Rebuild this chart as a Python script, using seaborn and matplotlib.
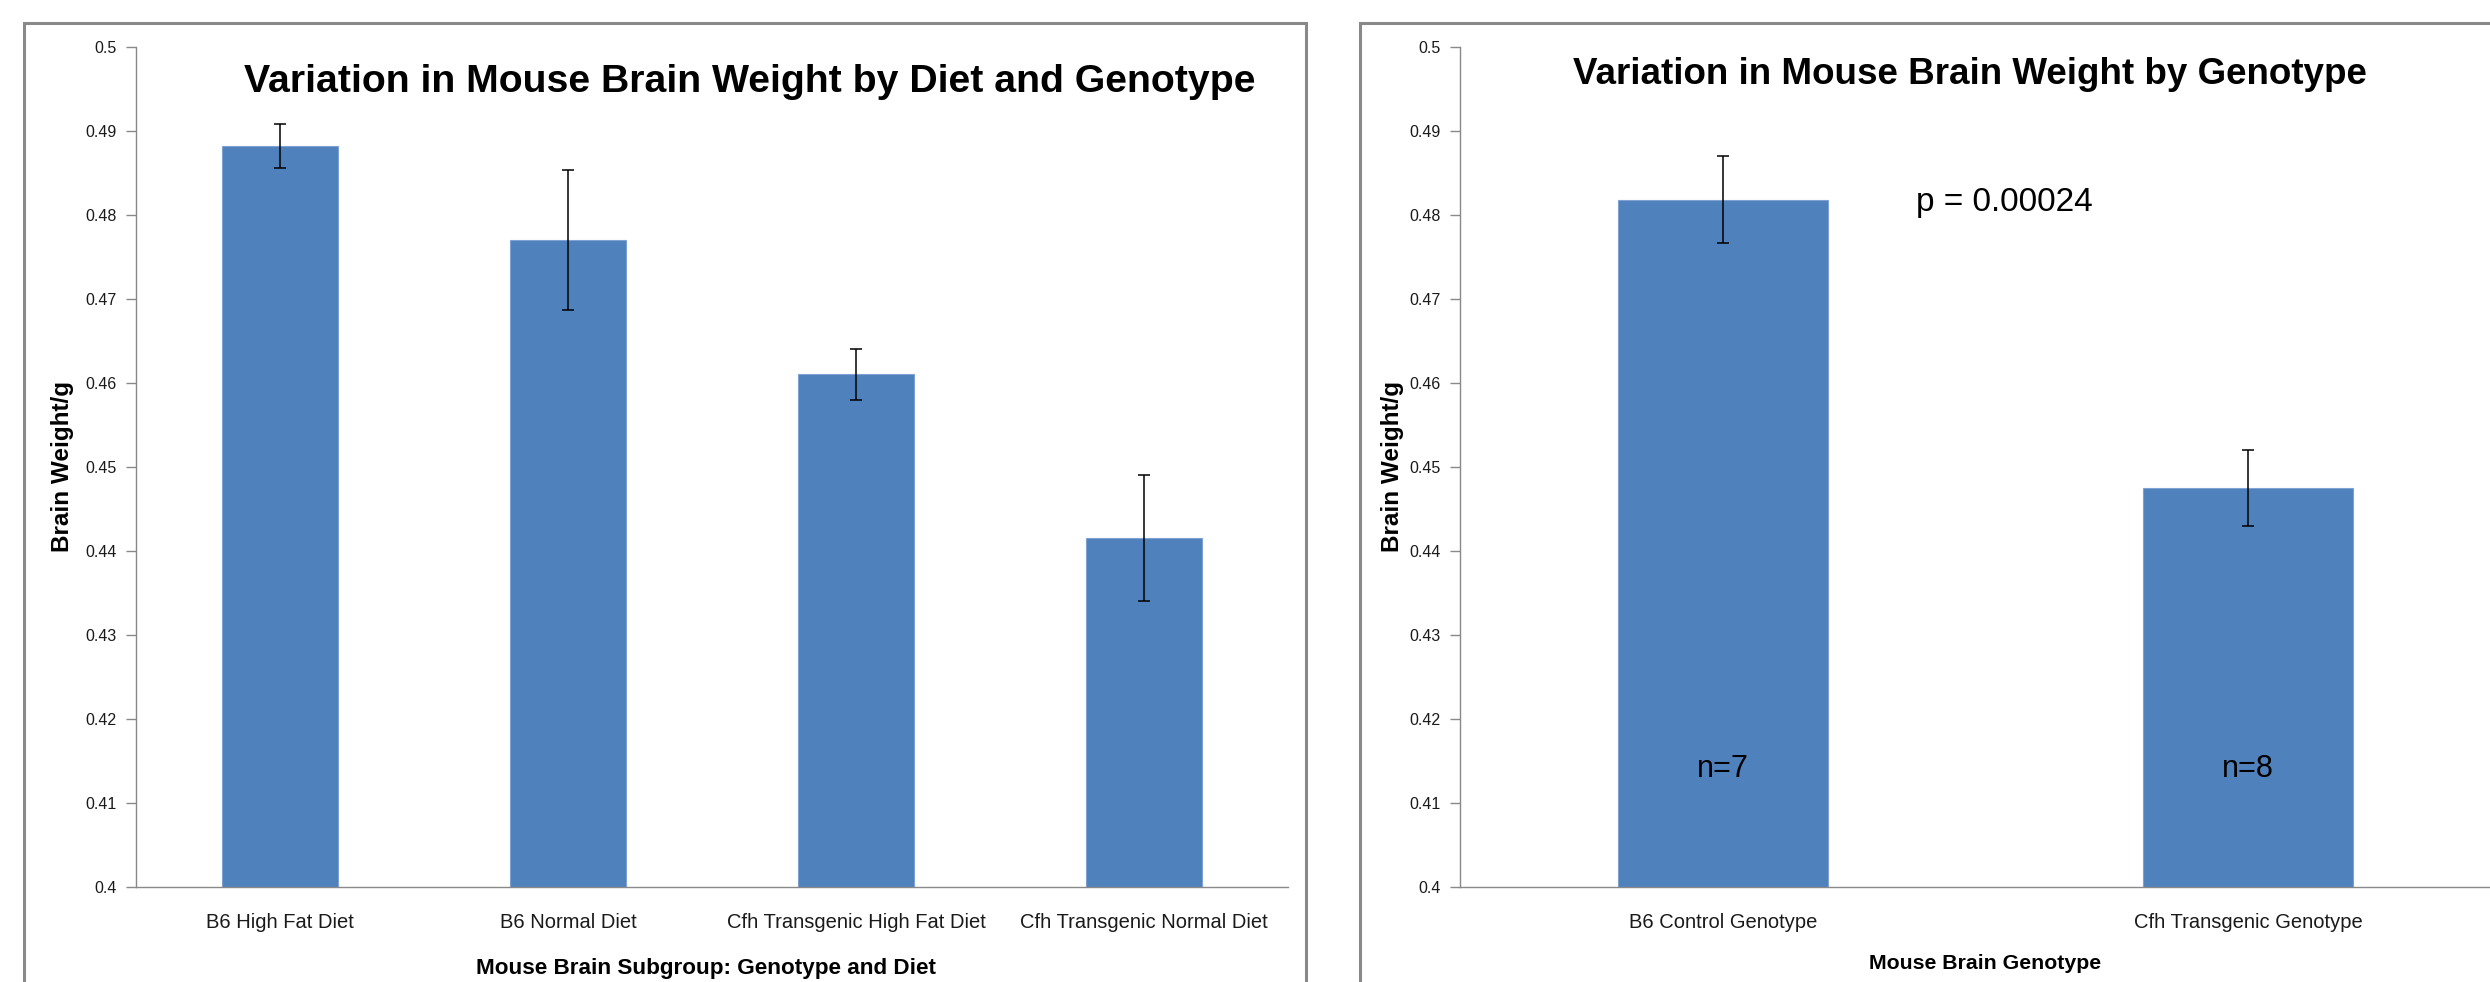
import matplotlib
matplotlib.use("Agg")
import matplotlib.pyplot as plt
import seaborn as sns
from matplotlib.patches import Rectangle
from matplotlib.ticker import FixedLocator, FuncFormatter

# data
diet_groups = ["B6 High Fat Diet", "B6 Normal Diet",
               "Cfh Transgenic High Fat Diet", "Cfh Transgenic Normal Diet"]
diet_means = [0.4882, 0.4770, 0.4610, 0.4415]
diet_errs = [0.0026, 0.0083, 0.0030, 0.0075]

geno_groups = ["B6 Control Genotype", "Cfh Transgenic Genotype"]
geno_means = [0.4818, 0.4475]
geno_errs = [0.0052, 0.0045]
geno_n = ["n=7", "n=8"]
p_text = "p = 0.00024"

BLUE = "#4F81BD"
GREY = "#898989"
TXT = "#1a1a1a"

sns.set_style("white")
plt.rcParams["font.family"] = ["Liberation Sans", "DejaVu Sans"]
plt.rcParams["text.color"] = "black"
plt.rcParams["axes.labelcolor"] = "black"

W, H = 2490, 982
fig = plt.figure(figsize=(24.9, 9.82), dpi=100)

def fx(px):
    return px / W

def fy(py):
    return 1 - py / H

# panel frames (the second one runs off the right and bottom edges)
fig.patches.append(Rectangle((fx(24), fy(1000)), fx(1306 - 24), (1000 - 23) / H,
                             transform=fig.transFigure, fill=False, ec=GREY, lw=2.2))
fig.patches.append(Rectangle((fx(1360), fy(1000)), fx(1300), (1000 - 23) / H,
                             transform=fig.transFigure, fill=False, ec=GREY, lw=2.2))

ax_top, ax_bot = 46.7, 887
ax1 = fig.add_axes([fx(136), fy(ax_bot), fx(1288 - 136), (ax_bot - ax_top) / H])
ax2 = fig.add_axes([fx(1460), fy(ax_bot), fx(2511 - 1460), (ax_bot - ax_top) / H])


def draw_panel(ax, cats, means, errs):
    sns.barplot(x=cats, y=means, color=BLUE, width=0.4, errorbar=None,
                edgecolor="#7EA3D3", linewidth=0.8, saturation=1, ax=ax)
    ax.errorbar(range(len(cats)), means, yerr=errs, fmt="none",
                ecolor="black", elinewidth=1.1, capsize=4.5, capthick=1.1)
    ax.set_ylim(0.4, 0.5)
    ax.set_xlim(-0.5, len(cats) - 0.5)
    ax.yaxis.set_major_locator(FixedLocator([0.4 + 0.01 * i for i in range(11)]))
    ax.yaxis.set_major_formatter(FuncFormatter(lambda v, pos: "%g" % round(v, 2)))
    ax.xaxis.set_minor_locator(FixedLocator([i - 0.5 for i in range(len(cats) + 1)]))
    ax.tick_params(axis="x", which="major", length=0, pad=19, labelsize=14.5,
                   labelcolor=TXT)
    ax.tick_params(axis="x", which="minor", length=9, color=GREY, width=1, direction="out")
    ax.tick_params(axis="y", length=7, color=GREY, width=1, direction="out",
                   left=True, pad=7, labelsize=11.5, labelcolor=TXT)
    for s in ["top", "right"]:
        ax.spines[s].set_visible(False)
    for s in ["left", "bottom"]:
        ax.spines[s].set_color(GREY)
        ax.spines[s].set_linewidth(1)
    ax.set_ylabel("Brain Weight/g", fontsize=17.5, fontweight="bold")
    ax.set_facecolor("none")


draw_panel(ax1, diet_groups, diet_means, diet_errs)
draw_panel(ax2, geno_groups, geno_means, geno_errs)

ax1.set_xlabel("Mouse Brain Subgroup: Genotype and Diet", fontsize=16.2, fontweight="bold")
ax2.set_xlabel("Mouse Brain Genotype", fontsize=15.3, fontweight="bold")
ax1.xaxis.set_label_coords(0.495, -0.084)
ax2.xaxis.set_label_coords(0.5, -0.080)
ax1.yaxis.set_label_coords(-0.054, 0.5)
ax2.yaxis.set_label_coords(-0.053, 0.5)

for i, t in enumerate(geno_n):
    ax2.text(i, 0.414, t, ha="center", va="center", fontsize=22)
ax2.text(0.535, 0.4815, p_text, ha="center", va="center", fontsize=24)

fig.text(fx(750), fy(82), "Variation in Mouse Brain Weight by Diet and Genotype",
         ha="center", va="center", fontsize=28.3, fontweight="bold")
fig.text(fx(1970), fy(74), "Variation in Mouse Brain Weight by Genotype",
         ha="center", va="center", fontsize=26.5, fontweight="bold")

fig.savefig("out.png", dpi=100)
